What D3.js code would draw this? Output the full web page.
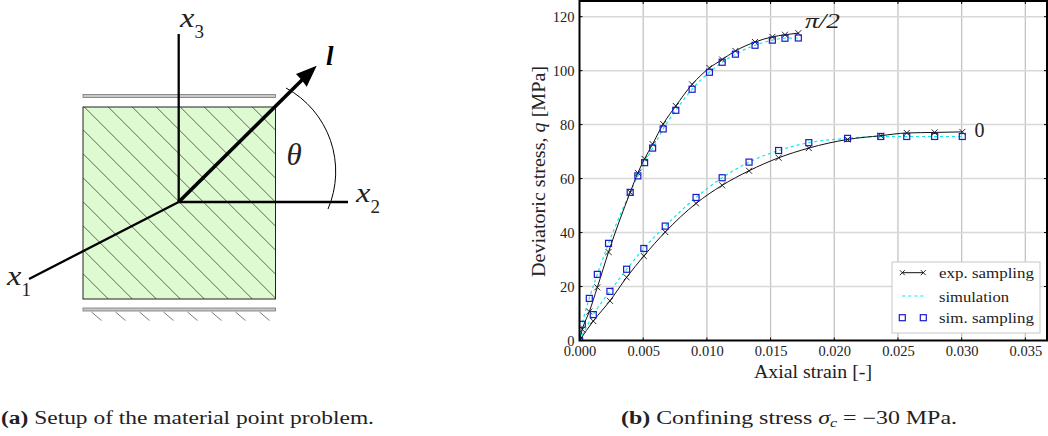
<!DOCTYPE html>
<html>
<head>
<meta charset="utf-8">
<script src="https://cdn.jsdelivr.net/npm/d3@7"></script>
<style>
  html, body { margin: 0; padding: 0; background: #fff; }
  svg { display: block; }
  text { font-family: "Liberation Serif", serif; fill: #222; }
</style>
</head>
<body>
<script>
// chart data
var xTicks = [0, 0.005, 0.01, 0.015, 0.02, 0.025, 0.03, 0.035];
var yTicks = [0, 20, 40, 60, 80, 100, 120];

// angle pi/2
var expStrainA = [0, 0.00022, 0.00077, 0.0014, 0.00228, 0.00398, 0.00458, 0.00511, 0.00574, 0.00657, 0.00756, 0.00884, 0.0102, 0.0112, 0.01224, 0.01378, 0.01514, 0.01613, 0.01718];
var expStressA = [0, 4.1, 10.7, 19.7, 32.8, 54.9, 62.1, 67.3, 72.8, 80.2, 86.9, 94.9, 101, 104.1, 107.3, 110.6, 112.5, 113.3, 113.9];
var simStressA = [0, 6, 15.6, 24.5, 36, 54.9, 61, 65.9, 71.3, 78.4, 85.3, 93.1, 99.4, 103.1, 106.1, 109.4, 111.3, 112, 112.1];

// angle 0
var expStrainB = [0, 0.00108, 0.00239, 0.0037, 0.00505, 0.00673, 0.00915, 0.0112, 0.01331, 0.01563, 0.018, 0.02104, 0.02365, 0.02569, 0.02788, 0.03005];
var expStressB = [0, 7.2, 14.7, 23.4, 31.3, 40.2, 50.8, 57.5, 62.9, 67.7, 71.3, 74.5, 75.9, 76.9, 77.1, 77.3];
var simStressB = [0, 9.6, 18.2, 26.4, 34.1, 42.4, 53, 60.3, 66.1, 70.4, 73.3, 74.9, 75.6, 75.6, 75.6, 75.6];

var curveLabels = ["\u03c0/2", "0"];
var legendLabels = ["exp. sampling", "simulation", "sim. sampling"];
var legendWidths = [95, 70, 95];

var w = 1048;
var h = 436;

var svg = d3.select("body").append("svg")
  .attr("width", w)
  .attr("height", h);

// stretch a text to the width it has in the picture (the original font is wider)
function fit(sel, len) {
  return sel.attr("textLength", len).attr("lengthAdjust", "spacingAndGlyphs");
}

// ---------- left: material point sketch ----------
var sketch = svg.append("g");
var sq = { x0: 83, x1: 275.5, y0: 107, y1: 299 };
var org = { x: 178.7, y: 202 };

var defs = svg.append("defs");
defs.append("clipPath").attr("id", "sqClip")
  .append("rect")
  .attr("x", sq.x0).attr("y", sq.y0)
  .attr("width", sq.x1 - sq.x0).attr("height", sq.y1 - sq.y0);

sketch.append("rect")
  .attr("x", sq.x0).attr("y", sq.y0)
  .attr("width", sq.x1 - sq.x0).attr("height", sq.y1 - sq.y0)
  .attr("fill", "#ddfad0");

// hatching at 45 degrees, 24px apart
sketch.append("g").attr("clip-path", "url(#sqClip)")
  .selectAll("line")
  .data(d3.range(-8, 8))
  .enter().append("line")
  .attr("x1", function(d) { return sq.x0; })
  .attr("y1", function(d) { return sq.x0 - (1.3 + d * 24); })
  .attr("x2", function(d) { return sq.x1; })
  .attr("y2", function(d) { return sq.x1 - (1.3 + d * 24); })
  .attr("stroke", "#444")
  .attr("stroke-width", 0.8);

sketch.append("rect")
  .attr("x", sq.x0).attr("y", sq.y0)
  .attr("width", sq.x1 - sq.x0).attr("height", sq.y1 - sq.y0)
  .attr("fill", "none")
  .attr("stroke", "#222")
  .attr("stroke-width", 1);

// top and bottom plates
[96, 309.5].forEach(function(py) {
  sketch.append("rect")
    .attr("x", sq.x0).attr("y", py - 1.5)
    .attr("width", sq.x1 - sq.x0).attr("height", 3)
    .attr("fill", "#c8c8c8")
    .attr("stroke", "#777")
    .attr("stroke-width", 0.8);
});

// ground marks under the bottom plate
sketch.selectAll(".ground")
  .data(d3.range(8))
  .enter().append("line")
  .attr("class", "ground")
  .attr("x1", function(d) { return 91.5 + d * 24; })
  .attr("y1", 312)
  .attr("x2", function(d) { return 101.5 + d * 24; })
  .attr("y2", 320.5)
  .attr("stroke", "#555")
  .attr("stroke-width", 0.8);

// axes of the sketch
var axisEnds = [[178.7, 34], [348, 202], [29, 279]];
sketch.selectAll(".ax")
  .data(axisEnds)
  .enter().append("line")
  .attr("class", "ax")
  .attr("x1", org.x).attr("y1", org.y)
  .attr("x2", function(d) { return d[0]; })
  .attr("y2", function(d) { return d[1]; })
  .attr("stroke", "#000")
  .attr("stroke-width", 2.3);

// direction l
sketch.append("line")
  .attr("x1", org.x).attr("y1", org.y)
  .attr("x2", 303).attr("y2", 79)
  .attr("stroke", "#000")
  .attr("stroke-width", 3.6);
sketch.append("path")
  .attr("d", "M316.7,65.7 L306.7,86.7 L301.7,80 L296,74 Z")
  .attr("fill", "#000");

// angle arc
sketch.append("path")
  .attr("d", "M286,88 A95,95 0 0 1 328,209")
  .attr("fill", "none")
  .attr("stroke", "#000")
  .attr("stroke-width", 1);

function mathLabel(px, py, sub, subX, subY) {
  sketch.append("text")
    .attr("transform", "translate(" + px + "," + py + ") scale(1.2,1)")
    .attr("font-size", 27)
    .attr("font-style", "italic")
    .text("x");
  sketch.append("text")
    .attr("x", subX).attr("y", subY)
    .attr("font-size", 19)
    .text(sub);
}
mathLabel(180, 27, "3", 194.6, 38);
mathLabel(356, 201.7, "2", 370.6, 213);
mathLabel(7, 285, "1", 21.6, 296);

sketch.append("text").attr("x", 286.5).attr("y", 165)
  .attr("font-size", 31).attr("font-style", "italic").text("\u03b8");
sketch.append("text").attr("x", 326).attr("y", 65)
  .attr("font-size", 27).attr("font-style", "italic").attr("font-weight", "bold")
  .style("fill", "#000").text("l");

// ---------- right: stress strain plot ----------
var x = d3.scaleLinear().domain([0, 0.0367]).range([579.5, 1047]);
var y = d3.scaleLinear().domain([0, 125.8]).range([340.5, 1]);

defs.append("clipPath").attr("id", "plotClip")
  .append("rect")
  .attr("x", x.range()[0]).attr("y", y.range()[1])
  .attr("width", x.range()[1] - x.range()[0])
  .attr("height", y.range()[0] - y.range()[1]);

var plot = svg.append("g");

plot.selectAll(".gridx")
  .data(xTicks.slice(1))
  .enter().append("line")
  .attr("class", "gridx")
  .attr("x1", function(d) { return x(d); })
  .attr("x2", function(d) { return x(d); })
  .attr("y1", y.range()[0])
  .attr("y2", y.range()[1])
  .attr("stroke", "#c4c4c4")
  .attr("stroke-width", 1.3);

plot.selectAll(".gridy")
  .data(yTicks.slice(1))
  .enter().append("line")
  .attr("class", "gridy")
  .attr("x1", x.range()[0])
  .attr("x2", x.range()[1])
  .attr("y1", function(d) { return y(d); })
  .attr("y2", function(d) { return y(d); })
  .attr("stroke", "#d8d8d8")
  .attr("stroke-width", 1.5);

var curveLine = d3.line()
  .x(function(d) { return x(d[0]); })
  .y(function(d) { return y(d[1]); })
  .curve(d3.curveMonotoneX);

var seriesList = [
  { strain: expStrainA, exp: expStressA, sim: simStressA },
  { strain: expStrainB, exp: expStressB, sim: simStressB }
];

var marks = plot.append("g").attr("clip-path", "url(#plotClip)");

seriesList.forEach(function(s) {
  var expPts = d3.zip(s.strain, s.exp);
  var simPts = d3.zip(s.strain, s.sim);

  marks.append("path")
    .attr("d", curveLine(simPts))
    .attr("fill", "none")
    .attr("stroke", "#10e8e8")
    .attr("stroke-width", 1.2)
    .attr("stroke-dasharray", "3,3");

  marks.append("path")
    .attr("d", curveLine(expPts))
    .attr("fill", "none")
    .attr("stroke", "#111")
    .attr("stroke-width", 1);

  marks.append("g").selectAll("path")
    .data(expPts)
    .enter().append("path")
    .attr("transform", function(d) { return "translate(" + x(d[0]) + "," + y(d[1]) + ")"; })
    .attr("d", "M-3,-3L3,3M-3,3L3,-3")
    .attr("stroke", "#111")
    .attr("stroke-width", 0.9)
    .attr("fill", "none");

  marks.append("g").selectAll("rect")
    .data(simPts)
    .enter().append("rect")
    .attr("x", function(d) { return x(d[0]) - 3; })
    .attr("y", function(d) { return y(d[1]) - 3; })
    .attr("width", 6)
    .attr("height", 6)
    .attr("fill", "none")
    .attr("stroke", "#1a1ad0")
    .attr("stroke-width", 1.2);
});

// frame
plot.append("rect")
  .attr("x", x.range()[0]).attr("y", y.range()[1])
  .attr("width", x.range()[1] - x.range()[0])
  .attr("height", y.range()[0] - y.range()[1])
  .attr("fill", "none")
  .attr("stroke", "#000")
  .attr("stroke-width", 2);

// axes
var xAxis = plot.append("g")
  .attr("transform", "translate(0," + y.range()[0] + ")")
  .call(d3.axisBottom(x).tickValues(xTicks).tickFormat(d3.format(".3f")).tickSize(0).tickPadding(5));
xAxis.select(".domain").remove();
xAxis.selectAll("text").attr("font-size", 14.5).style("font-family", '"Liberation Serif", serif').style("fill", "#222");

var yAxis = plot.append("g")
  .attr("transform", "translate(" + x.range()[0] + ",0)")
  .call(d3.axisLeft(y).tickValues(yTicks).tickSize(0).tickPadding(5));
yAxis.select(".domain").remove();
yAxis.selectAll("text").attr("font-size", 14.5).style("font-family", '"Liberation Serif", serif').style("fill", "#222");

// inward tick marks
plot.selectAll(".tx")
  .data(xTicks.slice(1))
  .enter().append("path")
  .attr("class", "tx")
  .attr("d", function(d) {
    return "M" + x(d) + "," + y.range()[0] + "v-3M" + x(d) + "," + y.range()[1] + "v3";
  })
  .attr("stroke", "#000")
  .attr("stroke-width", 1);
plot.selectAll(".ty")
  .data(yTicks.slice(1))
  .enter().append("path")
  .attr("class", "ty")
  .attr("d", function(d) {
    return "M" + x.range()[0] + "," + y(d) + "h3M" + x.range()[1] + "," + y(d) + "h-3";
  })
  .attr("stroke", "#000")
  .attr("stroke-width", 1);

// axis titles
fit(plot.append("text")
  .attr("x", 813).attr("y", 378)
  .attr("text-anchor", "middle")
  .attr("font-size", 18)
  .text("Axial strain [-]"), 118);

var yTitle = fit(plot.append("text")
  .attr("transform", "translate(545,171.5) rotate(-90)")
  .attr("text-anchor", "middle")
  .attr("font-size", 18), 211);
yTitle.append("tspan").text("Deviatoric stress, ");
yTitle.append("tspan").attr("font-style", "italic").text("q");
yTitle.append("tspan").text(" [MPa]");

// curve labels
fit(plot.append("text").attr("x", 805).attr("y", 28)
  .attr("font-size", 20).attr("font-style", "italic").text(curveLabels[0]), 35);
plot.append("text").attr("x", 974.5).attr("y", 136.7)
  .attr("font-size", 20).text(curveLabels[1]);

// legend
var legend = plot.append("g");
legend.append("rect")
  .attr("x", 892).attr("y", 262)
  .attr("width", 148).attr("height", 71)
  .attr("fill", "#fff")
  .attr("stroke", "#c8c8c8")
  .attr("stroke-width", 1);

var legendY = [272.7, 296, 317.7];
var legendText = [278, 301.7, 323];
legend.selectAll("text")
  .data(legendLabels)
  .enter().append("text")
  .attr("x", 939)
  .attr("y", function(d, i) { return legendText[i]; })
  .attr("font-size", 15)
  .attr("textLength", function(d, i) { return legendWidths[i]; })
  .attr("lengthAdjust", "spacingAndGlyphs")
  .text(function(d) { return d; });

var legendX = [902.3, 923.3];
legend.append("line")
  .attr("x1", legendX[0]).attr("x2", legendX[1])
  .attr("y1", legendY[0]).attr("y2", legendY[0])
  .attr("stroke", "#111").attr("stroke-width", 1);
legend.selectAll(".lx")
  .data(legendX)
  .enter().append("path")
  .attr("class", "lx")
  .attr("transform", function(d) { return "translate(" + d + "," + legendY[0] + ")"; })
  .attr("d", "M-2.5,-2.5L2.5,2.5M-2.5,2.5L2.5,-2.5")
  .attr("stroke", "#111").attr("stroke-width", 0.9);
legend.append("line")
  .attr("x1", legendX[0]).attr("x2", legendX[1])
  .attr("y1", legendY[1]).attr("y2", legendY[1])
  .attr("stroke", "#10e8e8").attr("stroke-width", 1.2).attr("stroke-dasharray", "3,3");
legend.selectAll(".ls")
  .data(legendX)
  .enter().append("rect")
  .attr("class", "ls")
  .attr("x", function(d) { return d - 3; })
  .attr("y", legendY[2] - 3)
  .attr("width", 6).attr("height", 6)
  .attr("fill", "none")
  .attr("stroke", "#1a1ad0").attr("stroke-width", 1.2);

// captions
var capA = fit(svg.append("text").attr("x", 1).attr("y", 424).attr("font-size", 18), 373);
capA.append("tspan").attr("font-weight", "bold").text("(a)");
capA.append("tspan").text(" Setup of the material point problem.");

var capB = fit(svg.append("text").attr("x", 621).attr("y", 424).attr("font-size", 18), 336);
capB.append("tspan").attr("font-weight", "bold").text("(b)");
capB.append("tspan").text(" Confining stress ");
capB.append("tspan").attr("font-style", "italic").text("\u03c3");
capB.append("tspan").attr("font-style", "italic").attr("font-size", 12).attr("dy", 3).text("c");
capB.append("tspan").attr("dy", -3).text(" = \u221230 MPa.");
</script>
</body>
</html>
